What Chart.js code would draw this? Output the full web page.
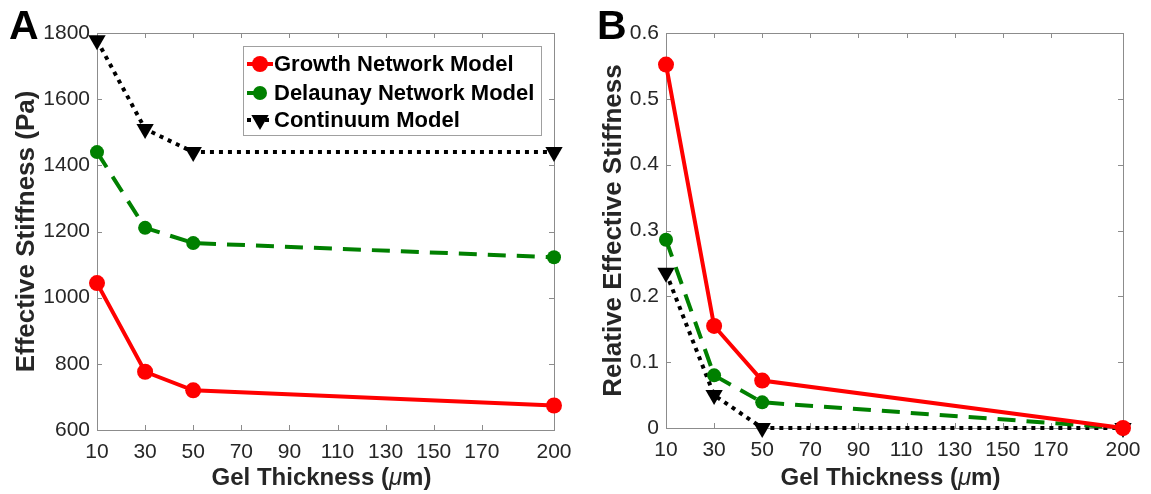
<!DOCTYPE html>
<html>
<head>
<meta charset="utf-8">
<script src="https://cdn.jsdelivr.net/npm/chart.js@4.4.1/dist/chart.umd.min.js"></script>
<style>
  body { margin: 0; background: #fff; width: 1151px; height: 494px; position: relative; overflow: hidden; }
  canvas { position: absolute; top: 0; }
  #chart-a { left: 0; }
  #chart-b { left: 575px; }
  .panel-letter { position: absolute; font: 700 41px "Liberation Sans", Arial, sans-serif; color: #000; line-height: 1; }
</style>
</head>
<body>
<canvas id="chart-a" width="575" height="494"></canvas>
<canvas id="chart-b" width="576" height="494"></canvas>
<div class="panel-letter" style="left:9px; top:5px;">A</div>
<div class="panel-letter" style="left:597px; top:5px;">B</div>
<script>
const FONT = '"Liberation Sans", Arial, sans-serif';

const thickness = [10, 30, 50, 200];
const xTickValues = [10, 30, 50, 70, 90, 110, 130, 150, 170, 200];
const seriesNames = ["Growth Network Model", "Delaunay Network Model", "Continuum Model"];

// panel A: effective stiffness (Pa)
const growthStiffness = [1044, 776, 720, 674];
const delaunayStiffness = [1440, 1211, 1165, 1122];
const continuumStiffness = [1778, 1510, 1440, 1440];
const stiffnessTicks = [600, 800, 1000, 1200, 1400, 1600, 1800];

// panel B: relative effective stiffness
const growthRelative = [0.552, 0.155, 0.072, 0];
const delaunayRelative = [0.286, 0.08, 0.039, 0];
const continuumRelative = [0.236, 0.05, 0, 0];
const relativeTicks = [0, 0.1, 0.2, 0.3, 0.4, 0.5, 0.6];

const SERIES_STYLE = [
  { color: "#ff0000", dash: [], pointStyle: "circle", radius: 8, rotation: 0 },
  { color: "#008000", dash: [18, 11], pointStyle: "circle", radius: 7, rotation: 0 },
  { color: "#000000", dash: [4, 5], pointStyle: "triangle", radius: 10, rotation: 180 },
];

function makeDatasets(valueLists) {
  return valueLists.map((values, i) => {
    const s = SERIES_STYLE[i];
    return {
      label: seriesNames[i],
      data: thickness.map((x, k) => ({ x, y: values[k] })),
      borderColor: s.color,
      backgroundColor: s.color,
      borderWidth: 4,
      borderDash: s.dash,
      pointStyle: s.pointStyle,
      pointRadius: s.radius,
      pointRotation: s.rotation,
      pointBackgroundColor: s.color,
      pointBorderColor: s.color,
      pointBorderWidth: 0,
      tension: 0,
      clip: false,
      fill: false,
    };
  });
}

// box + inward ticks on all four sides, like the original figure
const frameTicksPlugin = {
  id: "frame-ticks",
  beforeDatasetsDraw(chart) {
    const { ctx, chartArea: a, scales } = chart;
    ctx.save();
    ctx.strokeStyle = "#8c8c8c";
    ctx.lineWidth = 1;
    ctx.strokeRect(Math.round(a.left) + 0.5, Math.round(a.top) + 0.5,
      Math.round(a.right - a.left), Math.round(a.bottom - a.top));
    ctx.beginPath();
    scales.x.ticks.forEach((t) => {
      const px = Math.round(scales.x.getPixelForValue(t.value)) + 0.5;
      ctx.moveTo(px, a.bottom); ctx.lineTo(px, a.bottom - 5);
      ctx.moveTo(px, a.top); ctx.lineTo(px, a.top + 5);
    });
    scales.y.ticks.forEach((t) => {
      const py = Math.round(scales.y.getPixelForValue(t.value)) + 0.5;
      ctx.moveTo(a.left, py); ctx.lineTo(a.left + 5, py);
      ctx.moveTo(a.right, py); ctx.lineTo(a.right - 5, py);
    });
    ctx.stroke();
    ctx.restore();
  },
};

// x title with an italic mu
const xTitlePlugin = {
  id: "x-title",
  afterDraw(chart) {
    const { ctx, chartArea: a } = chart;
    const parts = [
      { text: "Gel Thickness (", font: `700 24px ${FONT}` },
      { text: "μ", font: `italic 400 24px ${FONT}` },
      { text: "m)", font: `700 24px ${FONT}` },
    ];
    ctx.save();
    let total = 0;
    parts.forEach((p) => { ctx.font = p.font; p.w = ctx.measureText(p.text).width; total += p.w; });
    let x = (a.left + a.right) / 2 - 4 - total / 2;
    ctx.fillStyle = "#262626";
    ctx.textBaseline = "middle";
    ctx.textAlign = "left";
    parts.forEach((p) => { ctx.font = p.font; ctx.fillText(p.text, x, 478); x += p.w; });
    ctx.restore();
  },
};

function drawMarker(ctx, s, x, y) {
  ctx.fillStyle = s.color;
  ctx.beginPath();
  if (s.pointStyle === "triangle") {
    let rad = s.rotation * Math.PI / 180;
    ctx.moveTo(x + Math.sin(rad) * s.radius, y - Math.cos(rad) * s.radius);
    rad += 2 * Math.PI / 3;
    ctx.lineTo(x + Math.sin(rad) * s.radius, y - Math.cos(rad) * s.radius);
    rad += 2 * Math.PI / 3;
    ctx.lineTo(x + Math.sin(rad) * s.radius, y - Math.cos(rad) * s.radius);
    ctx.closePath();
  } else {
    ctx.arc(x, y, s.radius, 0, Math.PI * 2);
  }
  ctx.fill();
}

const legendPlugin = {
  id: "inside-legend",
  afterDatasetsDraw(chart) {
    const { ctx } = chart;
    const box = { left: 243, top: 46, right: 541, bottom: 135 };
    const rows = [64, 93, 120];
    ctx.save();
    ctx.fillStyle = "#fff";
    ctx.fillRect(box.left, box.top, box.right - box.left, box.bottom - box.top);
    ctx.strokeStyle = "#a0a0a0";
    ctx.lineWidth = 1;
    ctx.strokeRect(box.left + 0.5, box.top + 0.5, box.right - box.left, box.bottom - box.top);
    seriesNames.forEach((name, i) => {
      const s = SERIES_STYLE[i];
      const y = rows[i];
      ctx.strokeStyle = s.color;
      ctx.lineWidth = 4;
      ctx.setLineDash(s.dash);
      ctx.beginPath();
      ctx.moveTo(247, y); ctx.lineTo(273, y);
      ctx.stroke();
      ctx.setLineDash([]);
      drawMarker(ctx, s, 260, y);
      ctx.fillStyle = "#000";
      ctx.font = `700 22px ${FONT}`;
      ctx.textBaseline = "middle";
      ctx.fillText(name, 274, y + 1);
    });
    ctx.restore();
  },
};

function makeChart(canvasId, opts) {
  return new Chart(document.getElementById(canvasId), {
    type: "line",
    data: { datasets: makeDatasets(opts.series) },
    options: {
      responsive: false,
      animation: false,
      events: [],
      layout: { padding: { top: 33, right: opts.rightPad, left: 0, bottom: 0 } },
      plugins: { legend: { display: false }, tooltip: { enabled: false } },
      scales: {
        x: {
          type: "linear",
          min: 10,
          max: 200,
          afterBuildTicks: (scale) => { scale.ticks = xTickValues.map((v) => ({ value: v })); },
          afterFit: (scale) => { scale.height = opts.xHeight; },
          grid: { display: false },
          border: { display: false },
          ticks: {
            autoSkip: false,
            maxRotation: 0,
            padding: 2,
            color: "#262626",
            font: { family: FONT, size: 21 },
            callback: (v) => String(v),
          },
        },
        y: {
          type: "linear",
          min: opts.yTicks[0],
          max: opts.yTicks[opts.yTicks.length - 1],
          afterBuildTicks: (scale) => { scale.ticks = opts.yTicks.map((v) => ({ value: v })); },
          afterFit: (scale) => { scale.width = opts.yWidth; },
          grid: { display: false, drawTicks: false },
          border: { display: false },
          ticks: {
            padding: 7,
            color: "#262626",
            font: { family: FONT, size: 21 },
            callback: (v) => String(v),
          },
          title: {
            display: true,
            text: opts.yTitle,
            color: "#262626",
            font: { family: FONT, size: 26, weight: "bold" },
            padding: { top: opts.yTitlePad, bottom: 0 },
          },
        },
      },
    },
    plugins: opts.withLegend
      ? [frameTicksPlugin, xTitlePlugin, legendPlugin]
      : [frameTicksPlugin, xTitlePlugin],
  });
}

makeChart("chart-a", {
  series: [growthStiffness, delaunayStiffness, continuumStiffness],
  yTicks: stiffnessTicks,
  yTitle: "Effective Stiffness (Pa)",
  yWidth: 97,
  yTitlePad: 11,
  xHeight: 64,
  rightPad: 21,
  withLegend: true,
});

makeChart("chart-b", {
  series: [growthRelative, delaunayRelative, continuumRelative],
  yTicks: relativeTicks,
  yTitle: "Relative Effective Stiffness",
  yWidth: 91,
  yTitlePad: 23,
  xHeight: 66,
  rightPad: 28,
  withLegend: false,
});
</script>
</body>
</html>
